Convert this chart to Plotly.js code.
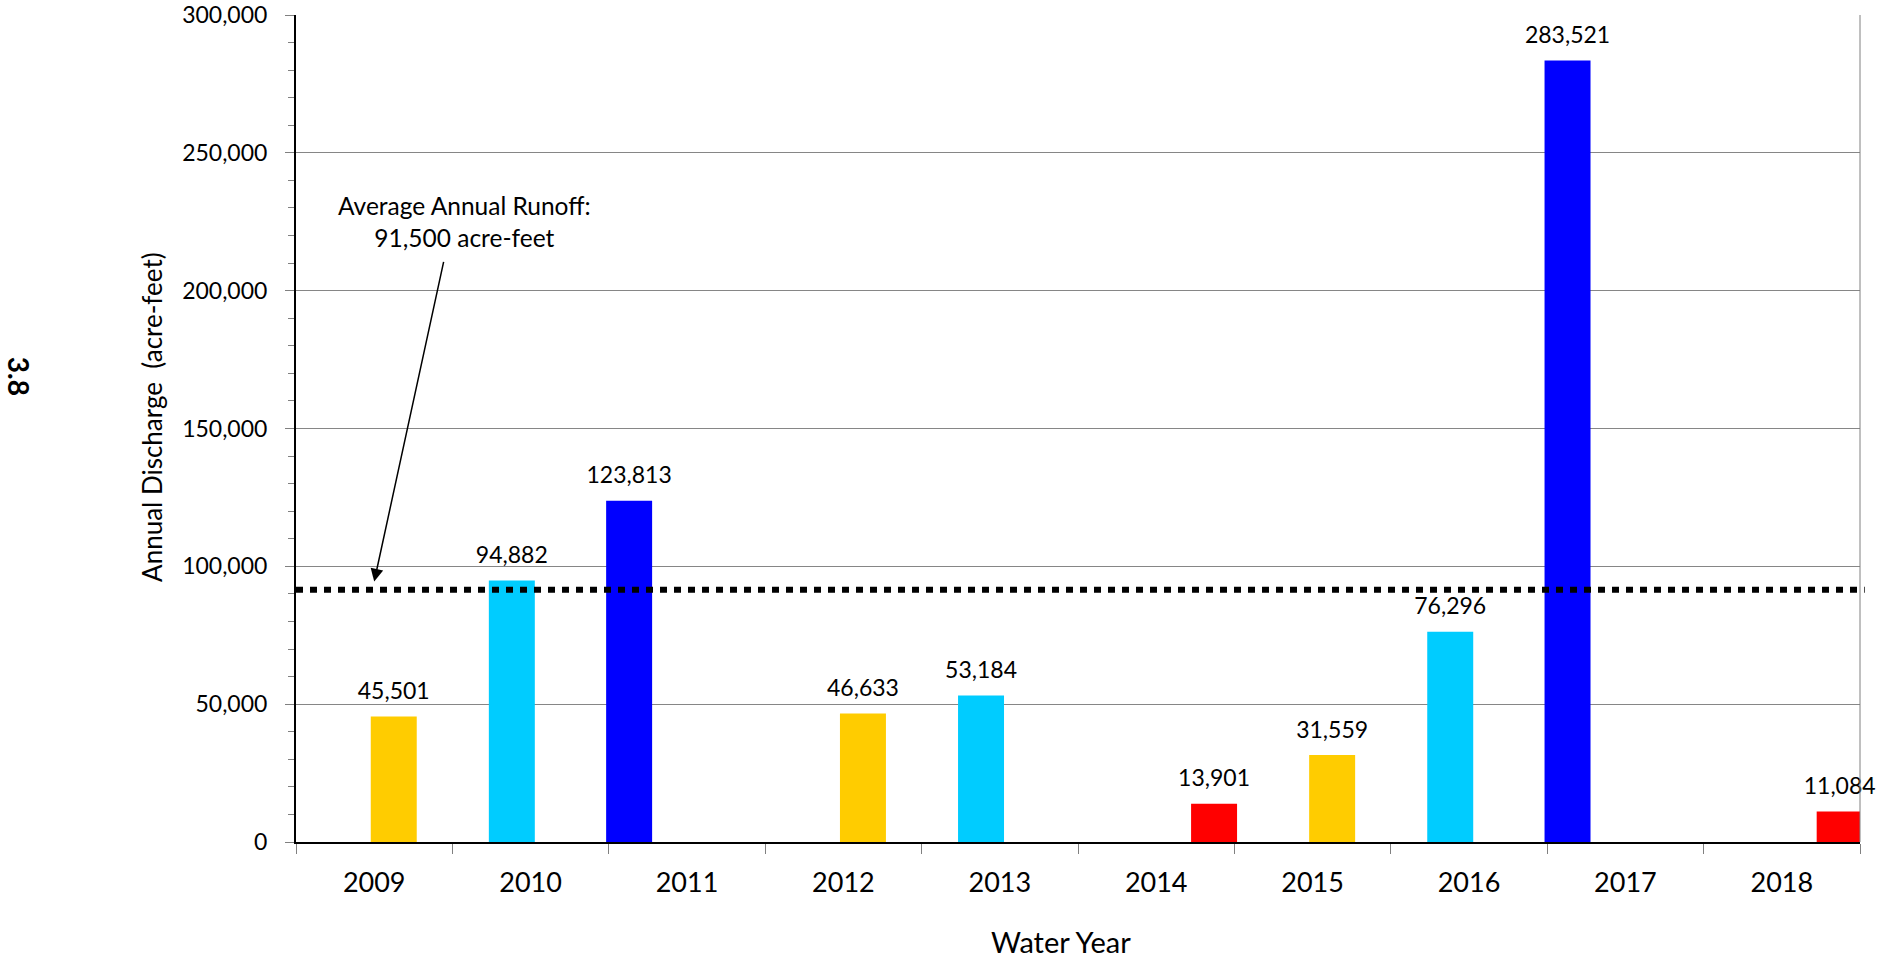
<!DOCTYPE html>
<html>
<head>
<meta charset="utf-8">
<script src="https://cdn.plot.ly/plotly-3.0.1.min.js"></script>
<style>
  html, body { margin: 0; padding: 0; background: #ffffff; }
  #chart { width: 1898px; height: 958px; }
</style>
</head>
<body>
<div id="chart"></div>
<script>
// ---- Data ----
const years = ['2009', '2010', '2011', '2012', '2013', '2014', '2015', '2016', '2017', '2018'];
// Annual discharge (acre-feet), one value per year
const discharge = [45501, 94882, 123813, 46633, 53184, 13901, 31559, 76296, 283521, 11084];
// Year-type class of each year (gives the bar colour / slot)
const yearClass = ['dry', 'normal', 'wet', 'dry', 'normal', 'critical', 'dry', 'normal', 'wet', 'critical'];
const classOrder = ['wet', 'normal', 'dry', 'critical'];
const classColors = { wet: '#0000FF', normal: '#00CCFF', dry: '#FFCC00', critical: '#FF0000' };
const averageRunoff = 91500;
const yTickVals = [0, 50000, 100000, 150000, 200000, 250000, 300000];

// ---- Style / layout constants ----
const FONT = 'Lato, Carlito, Calibri, "Open Sans", sans-serif';
const barWidth = 0.294;
const slotCenters = { wet: -0.37, normal: -0.12, dry: 0.125, critical: 0.37 };

const fmt = v => v.toLocaleString('en-US');

const traces = [];
classOrder.forEach(cls => {
  const y = discharge.map((v, i) => yearClass[i] === cls ? v : null);
  traces.push({
    type: 'bar',
    x: years,
    y: y,
    width: barWidth,
    offset: slotCenters[cls] - barWidth / 2,
    marker: { color: classColors[cls], line: { width: 0 } },
    hoverinfo: 'skip',
    showlegend: false
  });
});

// Data labels on an overlaid numeric axis (aligned to the bar slots)
const lblX = [], lblY = [], lblT = [];
discharge.forEach((v, i) => {
  lblX.push(i + slotCenters[yearClass[i]]);
  lblY.push(v);
  lblT.push(fmt(v));
});
traces.push({
  type: 'scatter',
  mode: 'markers+text',
  xaxis: 'x2',
  yaxis: 'y',
  x: lblX,
  y: lblY,
  text: lblT,
  textposition: 'top center',
  textfont: { family: FONT, size: 23, color: '#000000' },
  marker: { size: 17, opacity: 0 },
  hoverinfo: 'skip',
  showlegend: false,
  cliponaxis: false
});

const layout = {
  width: 1898,
  height: 958,
  paper_bgcolor: '#ffffff',
  plot_bgcolor: '#ffffff',
  margin: { l: 296, r: 38, t: 15, b: 116 },
  barmode: 'overlay',
  showlegend: false,
  font: { family: FONT, color: '#000000' },
  xaxis: {
    type: 'category',
    range: [-0.5, years.length - 0.5],
    tickson: 'boundaries',
    ticks: 'outside',
    ticklen: 10,
    tickwidth: 1,
    tickcolor: '#808080',
    ticklabelstandoff: 16,
    showline: true,
    linecolor: '#000000',
    linewidth: 2,
    showgrid: false,
    zeroline: false,
    tickfont: { family: FONT, size: 27, color: '#000000' }
  },
  xaxis2: {
    overlaying: 'x',
    type: 'linear',
    range: [-0.5, years.length - 0.5],
    visible: false,
    showgrid: false,
    zeroline: false
  },
  yaxis: {
    range: [0, 300000],
    tickvals: yTickVals,
    tickformat: ',d',
    ticks: 'outside',
    ticklen: 9,
    tickwidth: 1,
    tickcolor: '#808080',
    ticklabelstandoff: 13,
    minor: { dtick: 10000, ticks: 'outside', ticklen: 6, tickwidth: 1, tickcolor: '#808080', showgrid: false },
    showline: true,
    linecolor: '#000000',
    linewidth: 2,
    showgrid: true,
    gridcolor: '#868686',
    gridwidth: 1,
    zeroline: false,
    tickfont: { family: FONT, size: 23, color: '#000000' }
  },
  shapes: [
    // right border of plot area
    { type: 'line', xref: 'paper', yref: 'paper', x0: 1, x1: 1, y0: 0, y1: 1,
      line: { color: '#808080', width: 1 } },
    // average annual runoff line
    { type: 'line', xref: 'paper', yref: 'y', x0: 0, x1: 1.003, y0: averageRunoff, y1: averageRunoff,
      line: { color: '#000000', width: 6, dash: '7px,7px' } }
  ],
  annotations: [
    // axis titles
    {
      xref: 'paper', yref: 'paper', x: 0.489, y: -0.120,
      text: 'Water Year', showarrow: false, xanchor: 'center', yanchor: 'middle',
      font: { family: FONT, size: 29, color: '#000000' }
    },
    {
      xref: 'paper', yref: 'paper', x: -0.0921, y: 0.514,
      text: 'Annual Discharge\u00a0 (acre-feet)', textangle: -90, showarrow: false,
      xanchor: 'center', yanchor: 'middle',
      font: { family: FONT, size: 26, color: '#000000' }
    },
    // average runoff callout
    {
      xref: 'x', yref: 'y', x: 0.58, y: 225000,
      text: 'Average Annual Runoff:<br>' + fmt(averageRunoff) + ' acre-feet',
      showarrow: false, align: 'center', xanchor: 'center', yanchor: 'middle',
      font: { family: FONT, size: 24.5, color: '#000000' }
    },
    {
      xref: 'x', yref: 'y', axref: 'x', ayref: 'y',
      x: 0, y: averageRunoff + 3000,
      ax: 0.446, ay: 211000,
      text: '', showarrow: true,
      arrowhead: 2, arrowsize: 1.7, arrowwidth: 1.5, arrowcolor: '#000000'
    },
    // page label
    {
      xref: 'paper', yref: 'paper', x: -0.1771, y: 0.5637,
      text: '<b>3.8</b>', textangle: 90, showarrow: false,
      xanchor: 'center', yanchor: 'middle',
      font: { family: FONT, size: 28, color: '#000000' }
    }
  ]
};

Plotly.newPlot('chart', traces, layout, { staticPlot: true, displayModeBar: false });
</script>
</body>
</html>
